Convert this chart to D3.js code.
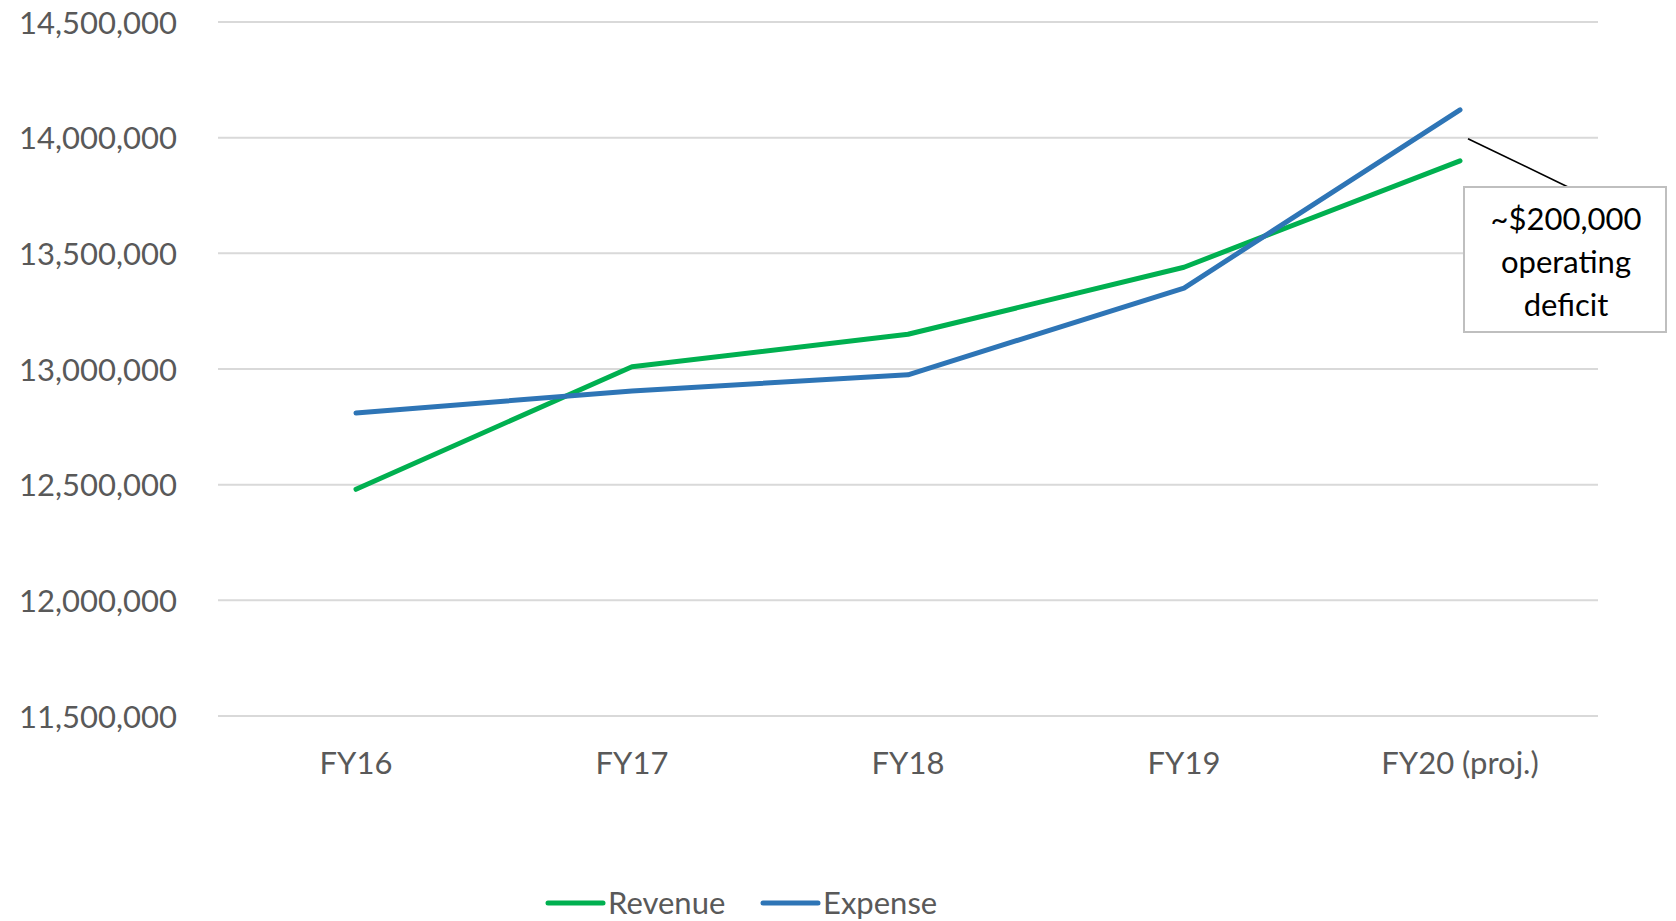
<!DOCTYPE html>
<html>
<head>
<meta charset="utf-8">
<script src="https://cdn.jsdelivr.net/npm/d3@7"></script>
<style>
  body { margin: 0; background: #fff; }
  svg { display: block; font-family: Lato, "Open Sans", sans-serif; }
</style>
</head>
<body>
<div id="chart"></div>
<script>
// data
const years = ["FY16", "FY17", "FY18", "FY19", "FY20 (proj.)"];
const revenue = [12480000, 13010000, 13150000, 13440000, 13900000];
const expense = [12810000, 12905000, 12975000, 13350000, 14120000];
const yTicks = [11500000, 12000000, 12500000, 13000000, 13500000, 14000000, 14500000];
const seriesNames = ["Revenue", "Expense"];
const noteLines = ["~$200,000", "operating", "deficit"];

const W = 1676, H = 921;
const margin = {top: 22, right: 78, bottom: 205, left: 218};
const width = W - margin.left - margin.right,
  height = H - margin.top - margin.bottom;

const colors = {Revenue: "#00b050", Expense: "#2e75b6"};

const svg = d3.select("#chart")
  .append("svg")
    .attr("width", W)
    .attr("height", H);

const g = svg.append("g")
  .attr("transform", `translate(${margin.left},${margin.top})`);

// scales
const x = d3.scaleBand()
  .domain(years)
  .range([0, width]);

const y = d3.scaleLinear()
  .domain([11500000, 14500000])
  .range([height, 0]);

// gridlines
g.selectAll(".grid")
  .data(yTicks)
  .join("line")
    .attr("class", "grid")
    .attr("x1", 0)
    .attr("x2", width)
    .attr("y1", d => y(d))
    .attr("y2", d => y(d))
    .style("stroke", "#d9d9d9")
    .style("stroke-width", 2);

// y axis labels
const yAxis = g.append("g")
  .attr("transform", "translate(-38,0)")
  .call(d3.axisLeft(y).tickValues(yTicks).tickFormat(d3.format(",")).tickSize(0));
yAxis.select(".domain").remove();
yAxis.selectAll("text")
  .style("font-family", "Lato, 'Open Sans', sans-serif")
  .style("font-size", "31px")
  .style("fill", "#595959")
  .attr("dy", "0.36em");

// x axis labels
const xAxis = g.append("g")
  .attr("transform", `translate(0,${height})`)
  .call(d3.axisBottom(x).tickSize(0));
xAxis.select(".domain").remove();
xAxis.selectAll("text")
  .style("font-family", "Lato, 'Open Sans', sans-serif")
  .style("font-size", "31px")
  .style("fill", "#595959")
  .attr("y", 0)
  .attr("dy", "58px");

// lines
const line = d3.line()
  .x((d, i) => x(years[i]) + x.bandwidth() / 2)
  .y(d => y(d));

const series = [revenue, expense];
g.selectAll(".line")
  .data(series)
  .join("path")
    .attr("class", "line")
    .attr("d", line)
    .style("fill", "none")
    .style("stroke", (d, i) => colors[seriesNames[i]])
    .style("stroke-width", 5)
    .style("stroke-linecap", "round")
    .style("stroke-linejoin", "round");

// annotation: leader line + box
const lastX = x(years[4]) + x.bandwidth() / 2;
const box = {x: 1464, y: 187, w: 202, h: 145};
svg.append("line")
  .attr("x1", margin.left + lastX + 8)
  .attr("y1", margin.top + y(14000000) + 1)
  .attr("x2", box.x + 104)
  .attr("y2", box.y)
  .style("stroke", "#000")
  .style("stroke-width", 1.6);

svg.append("rect")
  .attr("x", box.x)
  .attr("y", box.y)
  .attr("width", box.w)
  .attr("height", box.h)
  .style("fill", "#fff")
  .style("stroke", "#bfbfbf")
  .style("stroke-width", 2);

svg.append("g").selectAll("text")
  .data(noteLines)
  .join("text")
    .attr("x", box.x + box.w / 2 + 1)
    .attr("y", (d, i) => box.y + 43 + i * 43)
    .attr("text-anchor", "middle")
    .style("font-size", "31px")
    .style("fill", "#000")
    .text(d => d);

// legend
const legend = svg.append("g")
  .attr("transform", "translate(548,903)");
const items = legend.selectAll("g")
  .data(seriesNames)
  .join("g")
    .attr("transform", (d, i) => `translate(${i * 215},0)`);
items.append("line")
  .attr("x1", 0).attr("x2", 55)
  .attr("y1", 0).attr("y2", 0)
  .style("stroke", d => colors[d])
  .style("stroke-width", 5)
  .style("stroke-linecap", "round");
items.append("text")
  .attr("x", 60)
  .attr("y", 11)
  .style("font-size", "31px")
  .style("fill", "#595959")
  .text(d => d);
</script>
</body>
</html>
